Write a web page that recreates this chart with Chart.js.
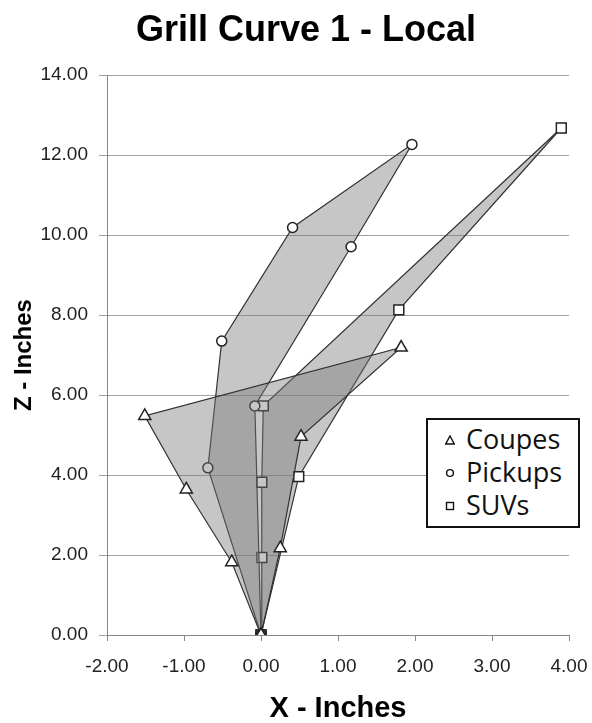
<!DOCTYPE html>
<html>
<head>
<meta charset="utf-8">
<script src="https://cdn.jsdelivr.net/npm/chart.js@4/dist/chart.umd.min.js"></script>
<style>
  body { margin: 0; background: #fff; }
  #wrap { position: relative; width: 592px; height: 723px; }
  #legend {
    position: absolute; left: 426px; top: 418px; width: 150px; height: 104px;
    border: 2px solid #111; background: #fff;
    font-family: "Open Sans", sans-serif; font-size: 27px; color: #111;
    padding-top: 2px; box-sizing: content-box;
  }
  #legend div { height: 33px; line-height: 33px; white-space: nowrap; }
  #legend svg { width: 10px; height: 10px; margin: 0 11px 0 17px; vertical-align: middle; position: relative; top: -2px; }
</style>
</head>
<body>
<div id="wrap">
  <canvas id="grillChart" width="592" height="723"></canvas>
  <div id="legend">
    <div><svg viewBox="0 0 10 10"><polygon points="5,1 9.3,9 0.7,9" fill="#fff" stroke="#111" stroke-width="1.4"/></svg>Coupes</div>
    <div><svg viewBox="0 0 10 10"><circle cx="5" cy="5" r="3.4" fill="#fff" stroke="#111" stroke-width="1.4"/></svg>Pickups</div>
    <div><svg viewBox="0 0 10 10"><rect x="1.5" y="1.5" width="7" height="7" fill="#fff" stroke="#111" stroke-width="1.4"/></svg>SUVs</div>
  </div>
</div>
<script>
// outline points, each polygon closed back at the origin
var coupesX = [0, -0.38, -0.97, -1.51, 1.82, 0.52, 0.25, 0];
var coupesZ = [0, 1.82, 3.64, 5.48, 7.19, 4.96, 2.17, 0];

var pickupsX = [0, -0.69, -0.51, 0.41, 1.96, 1.17, -0.08, 0];
var pickupsZ = [0, 4.18, 7.35, 10.19, 12.27, 9.71, 5.73, 0];

var suvsX = [0, 0.01, 0.01, 0.03, 3.90, 1.79, 0.49, 0];
var suvsZ = [0, 1.94, 3.82, 5.73, 12.68, 8.13, 3.96, 0];

var xTicks = [-2, -1, 0, 1, 2, 3, 4];
var zTicks = [0, 2, 4, 6, 8, 10, 12, 14];

function toPoints(xs, zs) {
    return xs.map(function (x, i) { return { x: x, y: zs[i] }; });
}

function series(label, xs, zs, style, radius) {
    return {
        label: label,
        data: toPoints(xs, zs),
        showLine: true,
        fill: 'shape',
        tension: 0,
        backgroundColor: 'rgba(120,120,120,0.42)',
        borderColor: '#333',
        borderWidth: 1.2,
        pointStyle: style,
        pointRadius: radius,
        pointBackgroundColor: '#fff',
        pointBorderColor: '#222',
        pointBorderWidth: 1.5
    };
}

Chart.defaults.font.family = '"Liberation Sans", Arial, sans-serif';
Chart.defaults.color = '#222';

var ctx = document.getElementById('grillChart').getContext('2d');
var grillChart = new Chart(ctx, {
    type: 'scatter',
    data: {
        datasets: [
            series('Coupes', coupesX, coupesZ, 'triangle', 7),
            series('Pickups', pickupsX, pickupsZ, 'circle', 5),
            series('SUVs', suvsX, suvsZ, 'rect', 7)
        ]
    },
    options: {
        responsive: false,
        animation: false,
        devicePixelRatio: 1,
        layout: { padding: { left: 20, right: 0, top: 0, bottom: 0 } },
        plugins: {
            legend: { display: false },
            tooltip: { enabled: false },
            title: {
                display: true,
                text: 'Grill Curve 1 - Local',
                color: '#000',
                font: { size: 36, weight: 'bold' },
                padding: { top: 9, bottom: 23 }
            }
        },
        scales: {
            x: {
                type: 'linear',
                min: -2,
                max: 4,
                afterBuildTicks: function (s) { s.ticks = xTicks.map(function (v) { return { value: v }; }); },
                afterFit: function (s) { s.height = 88; s.paddingRight = 23; },
                ticks: {
                    font: { size: 19 },
                    color: '#222',
                    padding: 14,
                    callback: function (v) { return Number(v).toFixed(2); }
                },
                grid: { drawOnChartArea: false, drawTicks: true, tickLength: 6, color: '#888' },
                border: { color: '#888', width: 1 },
                title: {
                    display: true,
                    text: 'X - Inches',
                    color: '#000',
                    font: { size: 29, weight: 'bold' },
                    padding: { top: 0, bottom: -3 }
                }
            },
            y: {
                type: 'linear',
                min: 0,
                max: 14,
                afterBuildTicks: function (s) { s.ticks = zTicks.map(function (v) { return { value: v }; }); },
                afterFit: function (s) { s.width = 87; },
                ticks: {
                    font: { size: 19 },
                    color: '#222',
                    padding: 11,
                    callback: function (v) { return Number(v).toFixed(2); }
                },
                grid: { color: '#a0a0a0', drawTicks: true, tickLength: 8 },
                border: { color: '#888', width: 1 },
                title: {
                    display: true,
                    text: 'Z - Inches',
                    color: '#000',
                    font: { size: 24, weight: 'bold' },
                    padding: { top: -10, bottom: 0 }
                }
            }
        }
    }
});
</script>
</body>
</html>
